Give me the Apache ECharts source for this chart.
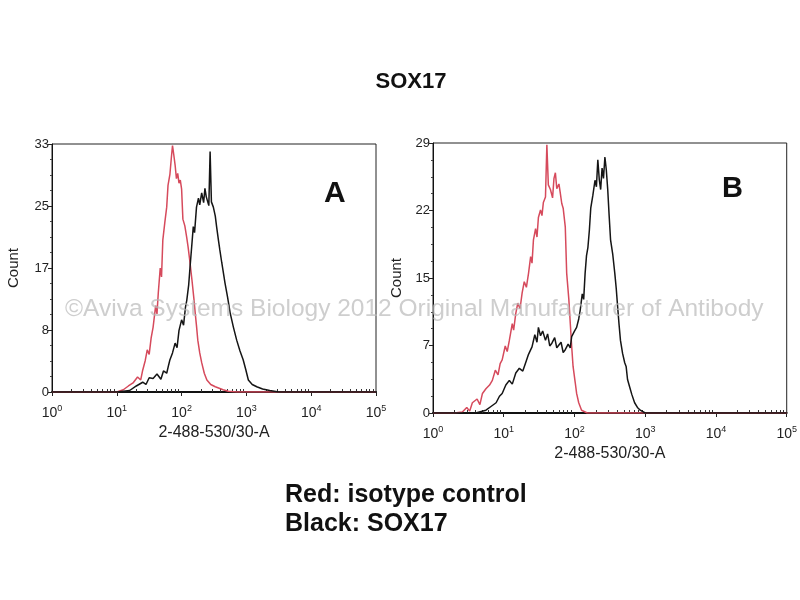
<!DOCTYPE html>
<html>
<head>
<meta charset="utf-8">
<script src="https://cdn.jsdelivr.net/npm/echarts@6/dist/echarts.min.js"></script>
<style>
html, body { margin: 0; padding: 0; background: #fff; }
#main { width: 800px; height: 600px; }
</style>
</head>
<body>
<div id="main"></div>
<script>
// panel A, red = isotype control
var redA_x = [1, 10, 12.6, 15.1, 17.8, 20.9, 23.4, 25.1, 27.5, 29.5, 31.6, 33.9, 36.3, 39.8, 41.7, 43.7, 46.8, 49.0, 51.3, 55.0, 58.9, 61.7, 66.1, 69.2, 72.4, 75.9, 79.4, 83.2, 87.1, 91.2, 95.5, 100, 104.7, 112.2, 120.2, 125.9, 134.9, 144.5, 154.9, 162.2, 169.8, 177.8, 190.5, 204.2, 223.9, 245.5, 281.8, 331.1, 380.2, 436.5, 524.8, 707.9, 100000];
var redA_y = [0, 0, 0.3, 0.8, 1.2, 2.0, 1.6, 2.9, 4.2, 5.6, 5.0, 7.2, 8.6, 11.5, 10.4, 13.2, 16.5, 15.3, 20.2, 22.5, 24.6, 27.5, 29, 31, 32.8, 31.5, 30.2, 28.4, 29.1, 27.8, 28.2, 27, 23, 22.1, 20.5, 19.3, 17.2, 14.9, 12.4, 10.5, 8.8, 6.9, 5.2, 3.9, 2.5, 1.6, 1.0, 0.7, 0.5, 0.3, 0.1, 0, 0];
// panel A, black = SOX17
var blackA_x = [1, 10, 15.8, 20.0, 25.1, 28.2, 31.6, 36.3, 41.7, 47.9, 52.5, 58.9, 63.1, 66.1, 72.4, 79.4, 85.1, 91.2, 100, 107.2, 114.8, 120.2, 128.8, 134.9, 144.5, 151.4, 158.5, 169.8, 182.0, 190.5, 204.2, 218.8, 229.1, 239.9, 263.0, 275.4, 288.4, 309.0, 331.1, 346.7, 371.5, 389.0, 416.9, 446.7, 467.7, 512.9, 562.3, 631.0, 707.9, 794.3, 891.3, 977.2, 1071.5, 1230.3, 1445.4, 1778.3, 2290.9, 3162.3, 100000];
var blackA_y = [0, 0, 0.2, 0.8, 1.3, 1.0, 1.9, 1.8, 2.4, 1.7, 2.8, 2.5, 3.6, 4.3, 5.2, 6.5, 5.9, 8.2, 9.6, 8.9, 11.3, 12.2, 14.3, 16.6, 19.8, 22, 21.2, 24.6, 25.8, 24.9, 26.5, 25.2, 27.1, 26, 24.8, 32, 25.3, 24.6, 23.4, 22, 20.1, 18.9, 17.2, 15.6, 14.5, 12.6, 10.5, 8.6, 6.9, 5.5, 4.3, 3.0, 1.6, 1.0, 0.7, 0.4, 0.2, 0, 0];
// panel B, red = isotype control
var redB_x = [1, 2.0, 2.6, 3.0, 3.3, 3.6, 4.2, 4.6, 5.0, 5.6, 6.3, 6.9, 7.6, 8.3, 8.9, 9.5, 10.5, 11.2, 12.0, 13.2, 13.8, 14.8, 15.8, 17.0, 18.2, 19.5, 20.9, 22.4, 24.0, 25.1, 26.3, 28.2, 29.5, 30.9, 33.1, 34.7, 36.3, 38.9, 40.7, 42.7, 45.7, 49.0, 51.3, 53.7, 56.2, 60.3, 63.1, 66.1, 69.2, 74.1, 77.6, 83.2, 87.1, 91.2, 95.5, 102.3, 107.2, 114.8, 125.9, 151.4, 100000];
var redB_y = [0, 0, 0.1, 0.6, 0.2, 1.1, 1.5, 0.9, 2.1, 2.6, 3.0, 3.5, 4.6, 4.1, 5.3, 5.7, 7.2, 6.6, 7.8, 9.6, 8.9, 10.7, 11.8, 11.2, 12.9, 14.1, 13.5, 15, 16.8, 16.1, 18.6, 19.8, 18.9, 21, 21.8, 21.2, 22.6, 23.2, 28.8, 24.5, 24, 23.1, 25.2, 25.8, 24.1, 24.6, 23.6, 22.5, 22, 20, 15, 12.2, 9.7, 7.2, 5, 3.3, 2.1, 1.1, 0.3, 0, 0];
// panel B, black = SOX17
var blackB_x = [1, 4.0, 5.6, 6.6, 7.8, 8.7, 9.5, 10.7, 12.0, 13.2, 14.8, 16.6, 18.6, 20.4, 22.4, 25.1, 27.5, 29.5, 30.9, 33.1, 35.5, 38.9, 41.7, 44.7, 47.9, 52.5, 56.2, 58.9, 64.6, 69.2, 74.1, 81.3, 87.1, 91.2, 100, 107.2, 114.8, 120.2, 128.8, 134.9, 141.3, 147.9, 154.9, 162.2, 169.8, 182.0, 195.0, 204.2, 213.8, 223.9, 234.4, 245.5, 257.0, 269.2, 281.8, 295.1, 309.0, 323.6, 346.7, 371.5, 389.0, 407.4, 426.6, 446.7, 478.6, 512.9, 537.0, 562.3, 602.6, 645.7, 707.9, 776.2, 851.1, 1000, 100000];
var blackB_y = [0, 0, 0.3, 0.7, 1.1, 1.8, 2.1, 3.0, 3.5, 3.1, 4.3, 4.8, 4.5, 5.4, 6.3, 7.1, 8.4, 7.6, 9.2, 8.3, 8.8, 7.8, 8.5, 7.2, 7.5, 8.1, 7.0, 7.1, 7.6, 6.5, 6.8, 7.4, 7.0, 8.2, 8.8, 9.2, 10.1, 11, 12.8, 12.2, 15, 16.9, 17.8, 19.6, 22, 23.4, 25, 24.3, 27.2, 25.1, 24, 26.3, 25.2, 27.5, 26.1, 24, 21.2, 18.6, 17.1, 15, 13.4, 11.4, 9.5, 7.8, 6.4, 5.4, 5.0, 3.6, 2.8, 2.0, 1.1, 0.6, 0.3, 0, 0];

// axis ticks
var minorTicks = [2, 3, 4, 5, 6, 7, 8, 9, 20, 30, 40, 50, 60, 70, 80, 90, 200, 300, 400, 500, 600, 700, 800, 900, 2000, 3000, 4000, 5000, 6000, 7000, 8000, 9000, 20000, 30000, 40000, 50000, 60000, 70000, 80000, 90000];
var yMaxA = 33, yMaxB = 29;

function zip(xs, ys) {
    return xs.map(function (x, i) { return [x, ys[i]]; });
}

var myChart = echarts.init(document.getElementById('main'));

var grids = [
    {left: 52, right: 424, top: 144, bottom: 208},
    {left: 433, right: 9, top: 143, bottom: 187}
];

function mainX(gi) {
    return {
        type: 'log', logBase: 10, min: 1, max: 100000, gridIndex: gi,
        name: '2-488-530/30-A', nameLocation: 'middle', nameGap: 33,
        nameTextStyle: {color: '#222', fontSize: 16, fontFamily: 'Liberation Sans'},
        axisLine: {show: true, lineStyle: {color: '#111', width: 2}},
        axisTick: {show: true, inside: false, length: 4, lineStyle: {color: '#222'}},
        splitLine: {show: false},
        axisLabel: {
            color: '#222', fontSize: 14, fontFamily: 'Liberation Sans', margin: 12,
            formatter: function (v) {
                return '10{s|' + Math.round(Math.log10(v)) + '}';
            },
            rich: {s: {fontSize: 9, fontFamily: 'Liberation Sans', color: '#222', padding: [0, 0, 9, 0], verticalAlign: 'bottom'}}
        }
    };
}

function minorX(gi) {
    return {
        type: 'log', logBase: 10, min: 1, max: 100000, gridIndex: gi, position: 'bottom', offset: 0,
        axisLine: {show: false},
        axisLabel: {show: false},
        splitLine: {show: false},
        axisTick: {show: true, inside: true, length: 3, customValues: minorTicks, lineStyle: {color: '#333'}}
    };
}

function yAx(gi, max) {
    return {
        type: 'value', min: 0, max: max, interval: max / 4, gridIndex: gi,
        name: 'Count', nameLocation: 'middle', nameGap: gi === 0 ? 31 : 29, nameRotate: 90,
        nameTextStyle: {color: '#222', fontSize: 15, fontFamily: 'Liberation Sans'},
        axisLine: {show: true, lineStyle: {color: '#111', width: 1}},
        axisTick: {show: true, inside: false, length: 4, lineStyle: {color: '#222'}},
        minorTick: {show: true, splitNumber: 4, length: 2, lineStyle: {color: '#444'}},
        splitLine: {show: false},
        axisLabel: {
            color: '#222', fontSize: 13, fontFamily: 'Liberation Sans', margin: 3,
            formatter: function (v) { return String(Math.round(v)); }
        }
    };
}

function hist(name, xi, yi, data, color) {
    return {
        name: name, type: 'line', xAxisIndex: xi, yAxisIndex: yi,
        data: data, showSymbol: false, symbol: 'none', animation: false,
        lineStyle: {color: color, width: 1.5}
    };
}

var red = '#d64a5c', black = '#151515';

option = {
    backgroundColor: '#fff',
    animation: false,
    title: {
        text: 'SOX17', left: 406, top: 66, textAlign: 'center',
        textStyle: {color: '#111', fontSize: 22, fontWeight: 'bold', fontFamily: 'Liberation Sans'}
    },
    grid: grids.map(function (g) {
        return {left: g.left, right: g.right, top: g.top, bottom: g.bottom, show: true, borderColor: '#222', borderWidth: 1, backgroundColor: 'transparent'};
    }),
    xAxis: [mainX(0), minorX(0), mainX(1), minorX(1)],
    yAxis: [yAx(0, yMaxA), yAx(1, yMaxB)],
    series: [
        hist('Red: isotype control', 0, 0, zip(redA_x, redA_y), red),
        hist('Black: SOX17', 0, 0, zip(blackA_x, blackA_y), black),
        hist('Red: isotype control', 2, 1, zip(redB_x, redB_y), red),
        hist('Black: SOX17', 2, 1, zip(blackB_x, blackB_y), black)
    ],
    graphic: [
        {type: 'text', left: 324, top: 179, style: {text: 'A', fontSize: 30, fontWeight: 'bold', fontFamily: 'Liberation Sans', fill: '#111'}},
        {type: 'text', left: 722, top: 174, style: {text: 'B', fontSize: 29, fontWeight: 'bold', fontFamily: 'Liberation Sans', fill: '#111'}},
        {type: 'text', left: 65, top: 297, z: 100, style: {text: '\u00A9Aviva Systems Biology 2012 Original Manufacturer of Antibody', fontSize: 24.5, fontFamily: 'Liberation Sans', fill: 'rgba(185,185,185,0.7)'}},
        {type: 'text', left: 285, top: 483, style: {text: 'Red: isotype control', fontSize: 25, fontWeight: 'bold', fontFamily: 'Liberation Sans', fill: '#111'}},
        {type: 'text', left: 285, top: 512, style: {text: 'Black: SOX17', fontSize: 25, fontWeight: 'bold', fontFamily: 'Liberation Sans', fill: '#111'}}
    ]
};

myChart.setOption(option);
</script>
</body>
</html>
